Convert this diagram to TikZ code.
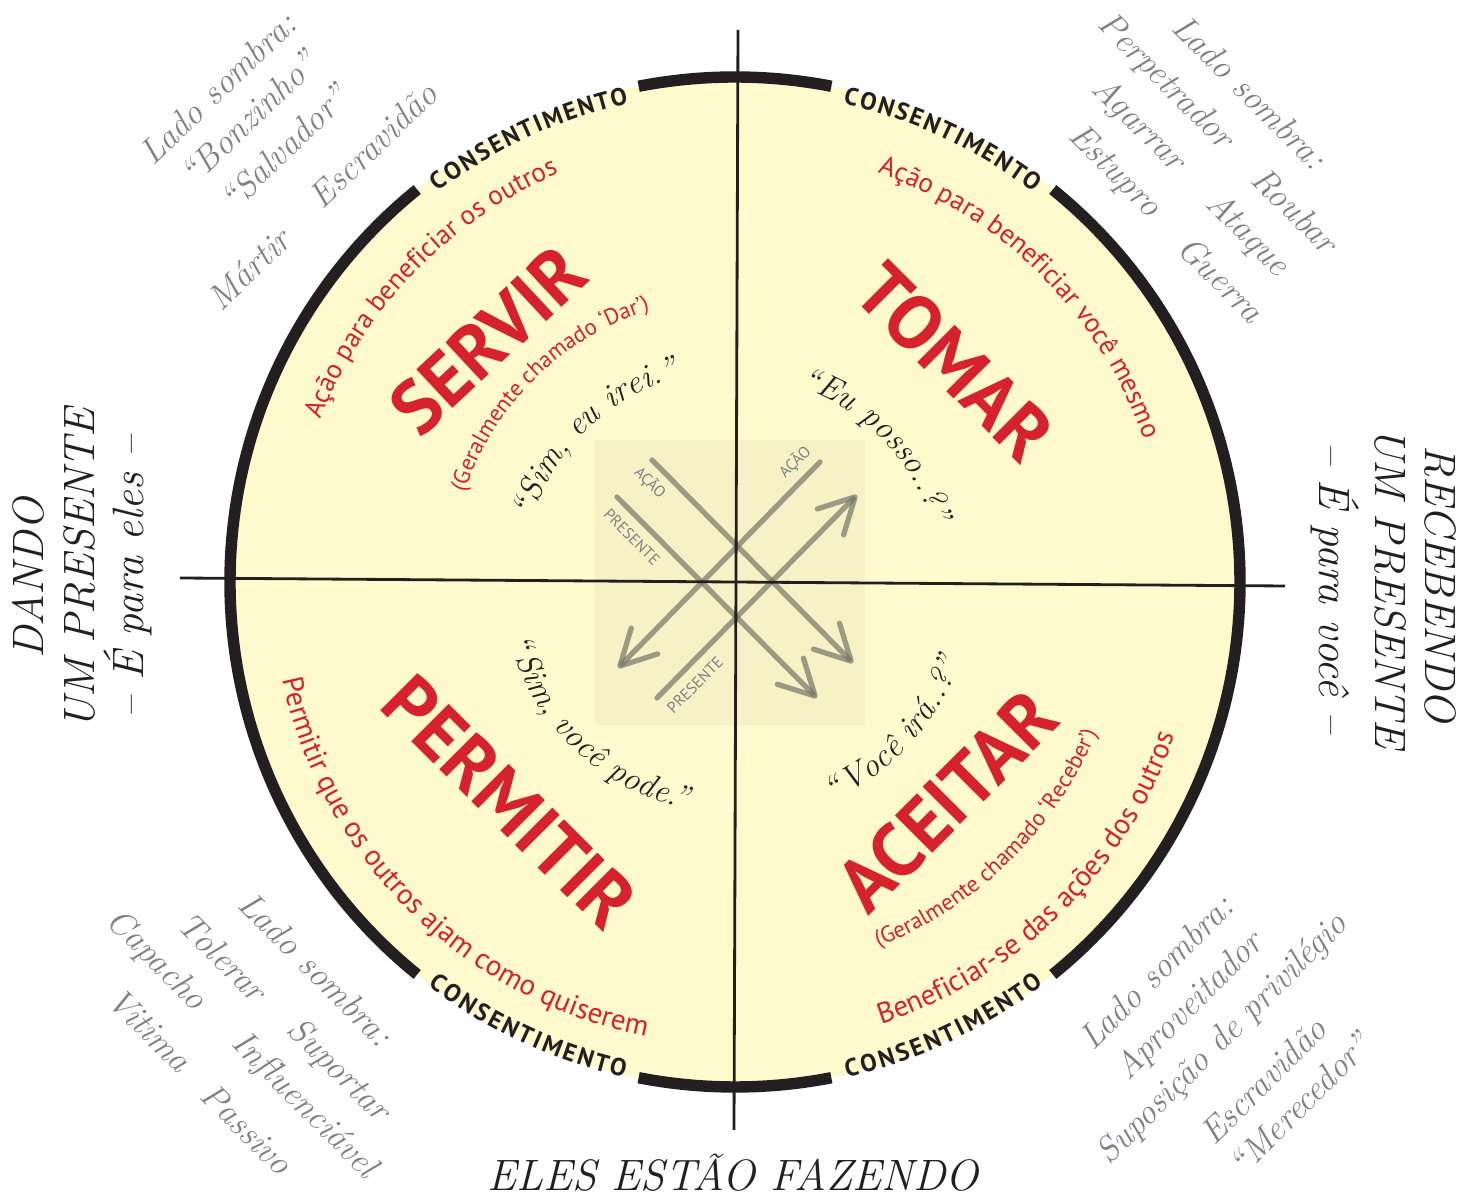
\documentclass[tikz,border=0pt]{standalone}
\usepackage{fontspec}
\newfontfamily\dinfont{PT Sans}
\usetikzlibrary{arrows.meta,decorations.text}
\definecolor{ringfill}{RGB}{254,250,205}
\definecolor{redtxt}{RGB}{214,34,44}
\definecolor{shadow}{RGB}{128,129,135}
\definecolor{arrowgray}{RGB}{118,118,102}
\definecolor{ink}{RGB}{35,31,32}
\newcommand{\redfmt}{\dinfont\fontsize{15.5}{18}\selectfont\color{redtxt}}
\newcommand{\redlow}{\dinfont\fontsize{16.5}{18}\selectfont\color{redtxt}}
\newcommand{\smallred}{\dinfont\fontsize{13}{16}\selectfont\color{redtxt}}
\newcommand{\quotefmt}{\itshape\fontsize{19}{20}\selectfont\color{ink}}
\newcommand{\arctext}[5]{%
  \path[decorate,decoration={text along path,text align=center,text={|#4|#5}}]
    ({#2+#3}:#1) arc[start angle={#2+#3},end angle={#2-#3},radius=#1];}

\begin{document}
\begin{tikzpicture}[x=0.02cm,y=0.02cm,
  bigword/.style={font=\dinfont\bfseries\fontsize{43}{43}\selectfont,text=redtxt,inner sep=0pt},
  sidetxt/.style={font=\itshape\fontsize{25}{25}\selectfont,text=ink,inner sep=0pt},
  sombra/.style={font=\itshape\fontsize{20}{20}\selectfont,text=shadow,inner sep=0pt},
  letra/.style={font=\dinfont\bfseries\fontsize{14}{14}\selectfont,text=ink,inner sep=0pt},
  seta/.style={draw=arrowgray,draw opacity=.7,line width=3pt,line cap=round,
    -{Straight Barb[length=20pt,width=21pt,round]}},
  setalbl/.style={font=\dinfont\fontsize{9}{9}\selectfont,text=shadow,inner sep=0pt}]
  \useasboundingbox (-735,-620) rectangle (743,582);
  \fill[white] (-735,-620) rectangle (743,582);

  \fill[ringfill] (0,0) circle[radius=505];
  \fill[black,opacity=.03] (-140,142) rectangle (130,-143);
  \foreach \a/\b in {79/101,129/231,259/281,-51/51}
    \draw[ink,line width=6.5pt] (\a:505) arc[start angle=\a,end angle=\b,radius=505];
  \foreach \s/\g/\r [count=\k] in {126.5/-1/-90,76.5/-1/-90,233.5/1/90,283.5/1/90}
    \foreach \l/\o [count=\i] in {C/0,O/2.03,N/4.16,S/6.09,E/7.86,N/9.79,T/11.73,
        I/13.22,M/15.06,E/17.17,N/19.10,T/21.04,O/23}
      \node[letra,rotate={\s+\g*\o+\r}] (cs\k-\i) at ({\s+\g*\o}:499) {\l};

  \coordinate (a1s) at (-83,122); \coordinate (a1e) at (118,-81);
  \coordinate (a2s) at (-118,85); \coordinate (a2e) at (82,-116);
  \coordinate (a3s) at (85,120);  \coordinate (a3e) at (-117,-86);
  \coordinate (a4s) at (-78,-116); \coordinate (a4e) at (122,87);
  \draw[seta] (a1s) -- (a1e);
  \draw[seta] (a2s) -- (a2e);
  \draw[seta] (a3s) -- (a3e);
  \draw[seta] (a4s) -- (a4e);
  \node[setalbl,rotate=-45] (acao1) at (-85,99) {AÇÃO};
  \node[setalbl,rotate=-45] (pres1) at (-103,45) {PRESENTE};
  \node[setalbl,rotate=45] (acao2) at (60,120) {AÇÃO};
  \node[setalbl,rotate=45] (pres2) at (-40,-103) {PRESENTE};

  \coordinate (hl) at (-555,4); \coordinate (hr) at (550,-4);
  \coordinate (vt) at (3,552);  \coordinate (vb) at (-1,-548);
  \draw[ink,line width=1.6pt] (hl) -- (hr);
  \draw[ink,line width=1.6pt] (vt) -- (vb);

  \node[bigword,rotate=43] (servir) at (-247,242) {SERVIR};
  \node[bigword,rotate=-45] (tomar) at (220,220) {TOMAR};
  \node[bigword,rotate=-45] (permitir) at (-225,-220) {PERMITIR};
  \node[bigword,rotate=45] (aceitar) at (212,-219) {ACEITAR};

  \arctext{445}{136}{40}{\redfmt}{Ação para beneficiar os outros}
  \arctext{285}{134.5}{40}{\smallred}{(Geralmente chamado ‘Dar’)}
  \arctext{212}{134}{40}{\quotefmt}{“Sim, eu irei.”}
  \arctext{433}{45}{40}{\redfmt}{Ação para beneficiar você mesmo}
  \arctext{205}{44}{40}{\quotefmt}{“Eu posso..?”}
  \arctext{463}{225.5}{-45}{\redlow}{Permitir que os outros ajam como quiserem}
  \arctext{232}{226}{-40}{\quotefmt}{{“\kern3pt}Sim, você pode{.”}}
  \arctext{239}{-43}{-40}{\quotefmt}{{“\kern2pt}Você irá..?”}
  \arctext{392}{-45.6}{-40}{\smallred}{(Geralmente chamado ‘Receber’)}
  \arctext{466}{-45.5}{-40}{\redlow}{Beneficiar-se das ações dos outros}

  \node[sombra,rotate=44] (tl1) at (-517,494) {Lado sombra:};
  \node[sombra,rotate=44] (tl2) at (-486,464) {“Bonzinho”};
  \node[sombra,rotate=44] (tl3) at (-451,434) {“Salvador”};
  \node[sombra,rotate=44] (tl4) at (-486,313) {Mártir};
  \node[sombra,rotate=44] (tl5) at (-362,437) {Escravidão};

  \node[sombra,rotate=-45] (tr1) at (515,490) {Lado sombra:};
  \node[sombra,rotate=-45] (tr2) at (430,500) {Perpetrador};
  \node[sombra,rotate=-45] (tr3) at (403,457) {Agarrar};
  \node[sombra,rotate=-45] (tr4) at (379,410) {Estupro};
  \node[sombra,rotate=-45] (tr5) at (560,372) {Roubar};
  \node[sombra,rotate=-45] (tr6) at (512,347) {Ataque};
  \node[sombra,rotate=-45] (tr7) at (486,303) {Guerra};

  \node[sombra,rotate=-45] (bl1) at (-419,-387) {Lado sombra:};
  \node[sombra,rotate=-45] (bl2) at (-512,-375) {Tolerar};
  \node[sombra,rotate=-45] (bl3) at (-579,-379) {Capacho};
  \node[sombra,rotate=-45] (bl4) at (-585,-448) {Vitima};
  \node[sombra,rotate=-45] (bl5) at (-397,-489) {Suportar};
  \node[sombra,rotate=-45] (bl6) at (-431,-524) {Influenciável};
  \node[sombra,rotate=-45] (bl7) at (-488,-547) {Passivo};

  \node[sombra,rotate=45] (br1) at (421,-390) {Lado sombra:};
  \node[sombra,rotate=45] (br2) at (455,-425) {Aproveitador};
  \node[sombra,rotate=45] (br3) at (488,-458) {Suposição de privilégio};
  \node[sombra,rotate=45] (br4) at (528,-499) {Escravidão};
  \node[sombra,rotate=45] (br5) at (565,-522) {“Merecedor”};

  \node[sidetxt,rotate=90] (dando) at (-707,4) {DANDO};
  \node[sidetxt,rotate=90] (presL) at (-655,13) {UM PRESENTE};
  \node[sidetxt,rotate=90] (paraeles) at (-607,5) {– É para eles –};
  \node[sidetxt,rotate=-90] (recebendo) at (705,-2) {RECEBENDO};
  \node[sidetxt,rotate=-90] (presR) at (655,-6) {UM PRESENTE};
  \node[sidetxt,rotate=-90] (paravoce) at (600,-6) {– É para você –};
  \node[sidetxt,anchor=base] (fazendo) at (-2,-609) {ELES ESTÃO FAZENDO};
\end{tikzpicture}
\end{document}
